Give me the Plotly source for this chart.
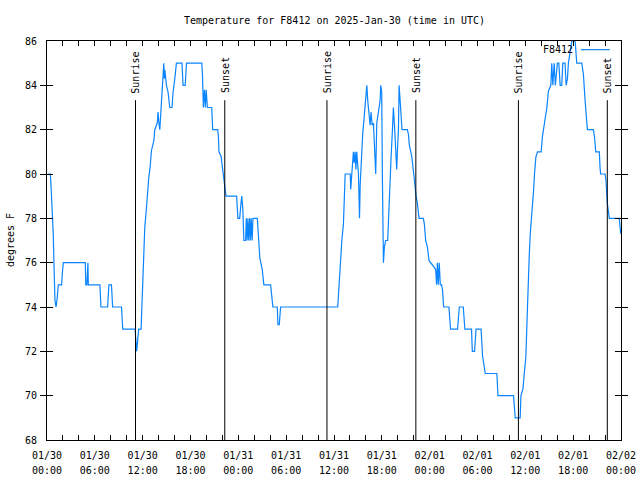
import plotly.graph_objects as go

# ---- data (times in UTC, temperatures in degrees F) ----
day1_times = ["00:05","00:25","00:30","00:40","00:47","00:53","01:00","01:08","01:15","01:25",
              "01:50","01:55","02:03","04:48","04:52","05:00","05:04","05:08","05:11","06:38",
              "06:46","07:36","07:46","08:05","08:14","09:21","09:30","11:03","11:15","11:23",
              "11:30","11:48","11:53","12:04","12:09","12:16","12:29","12:37","12:46","12:56",
              "13:06","13:24","13:31","13:50","13:56","14:02","14:09","14:16","14:26","14:34",
              "14:39","14:43","14:47","14:59","15:11","15:24","15:41","15:49","16:02","16:14",
              "16:56","17:04","17:20","17:30","19:25","19:30","19:37","19:45","19:52","19:58",
              "20:07","20:40","20:47","21:25","21:30","21:34","21:50","22:00","22:12","22:20",
              "22:27","23:47","23:57"]
day1_temps = [80,80,79.5,78.5,77.3,75.8,74.3,74,74.3,75,
              75,75.5,76,76,75,75,76,76,75,75,
              74,74,75,75,74,74,73,73,72,72.5,
              73,73,73.7,75.3,76.25,77.6,78.5,79.25,79.85,80.3,
              81.05,81.5,82,82.3,82.8,82.3,82,82.7,83.5,84.5,
              85,84.3,84.7,84,83.7,83,83,83.7,84.3,85,
              85,84,84,85,85,84.5,83,83.8,83,83.8,
              83,83,82,82,81.7,81,80.8,80.3,79.85,79.3,
              79,79,78]

day2_times = ["00:10","00:17","00:25","00:33","00:42","00:55","01:00","01:06","01:12","01:18",
              "01:25","01:31","01:37","01:44","01:50","02:23","02:27","02:35","02:42","03:00",
              "03:12","04:03","04:10","04:20","04:53","04:58","05:08","05:18","12:28","12:41",
              "12:51","12:59","13:11","13:19","13:24","14:02","14:06","14:14","14:26","14:32",
              "14:39","14:45","14:51","15:04","15:12","15:17","15:29","15:36","15:46","15:59",
              "16:07","16:14","16:24","16:32","16:39","16:47","16:57","17:04","17:14","17:22",
              "17:34","17:47","17:52","17:59","18:04","18:10","18:12","18:19","18:29","18:44",
              "18:49","18:57","19:02","19:10","19:20","19:27","19:35","19:40","19:47","19:52",
              "19:57","20:05","20:10","20:17","20:25","20:32","21:12","21:20","21:27","21:45",
              "22:00","22:10","22:18","22:27","22:40","23:12","23:20","23:30","23:43","23:55"]
day2_temps = [78,78.5,79,78.5,77,77,78,77,78,77,
              78,77,78,77,78,78,77.5,77,76.2,75.7,
              75,75,74.5,74,74,73.2,73.2,74,74,75.5,
              76.25,77,77.75,79.25,80,80,79.3,80,81,80.5,
              81,80.2,81,80,78,79.5,81.2,81.8,82.5,83.3,
              84,83.3,82.8,82.2,82.8,82.2,82.3,81.5,80,82.3,
              82.8,83.3,84,83.7,80,78,76,76.7,77,77,
              77.75,79.25,80.2,80.8,82,83,82.2,81.5,80.75,80.2,
              81,82,84,83.3,82.5,82,82,81.8,81.3,80.8,
              80,79.3,79,78.7,78,78,77.75,77,76.7,76.1]

day3_times = ["00:07","00:45","00:52","00:58","01:05","01:12","01:20","01:30","01:37","01:45",
              "02:25","02:37","03:30","03:43","04:13","04:25","05:15","05:21","05:38","05:49",
              "06:27","06:38","06:58","08:26","08:34","10:31","10:44","11:21","11:27","11:42",
              "11:52","12:04","12:12","12:19","12:29","12:37","12:44","12:54","13:02","13:09",
              "13:19","13:31","13:59","14:09","14:16","14:29","14:42","14:54","15:12","15:19",
              "15:27","15:37","15:46","16:01","16:12","16:22","16:34","16:42","16:59","17:07",
              "17:17","17:24","17:37","17:50","18:15","18:22","18:27","19:05","19:17","19:30",
              "19:42","19:47","20:32","20:40","20:50","21:17","21:22","21:27","22:00","22:07",
              "22:17","22:25","22:32","23:47","23:58"]
day3_temps = [76,75.7,75,76,75,76,75,75,74.75,74,
              74,73,73,74,74,73,73,72,72,73,
              73,71.8,71,71,70,70,69,69,70,70.3,
              71,71.75,73.25,74.75,76.25,77.3,77.75,78.7,79.25,80,
              80.75,81,81,81.7,82,82.4,83,83.75,84,85,
              84,85,84,85,85,84,84,85,85,84,
              84.3,85,85.5,86,86,85.5,85,85,84.5,83.3,
              82.25,82,82,81.7,81,81,80.3,80,80,79.7,
              78.7,78.3,78,78,77.3]

sun_times = ["2025-01-30 11:06", "2025-01-30 22:18", "2025-01-31 11:07",
             "2025-01-31 22:16", "2025-02-01 11:08", "2025-02-01 22:17"]
sun_labels = ["Sunrise", "Sunset", "Sunrise", "Sunset", "Sunrise", "Sunset"]
sun_line_top = 83.33

tick_times = ["2025-01-30 00:00", "2025-01-30 06:00", "2025-01-30 12:00", "2025-01-30 18:00",
              "2025-01-31 00:00", "2025-01-31 06:00", "2025-01-31 12:00", "2025-01-31 18:00",
              "2025-02-01 00:00", "2025-02-01 06:00", "2025-02-01 12:00", "2025-02-01 18:00",
              "2025-02-02 00:00"]
tick_dates = ["01/30", "01/30", "01/30", "01/30", "01/31", "01/31", "01/31", "01/31",
              "02/01", "02/01", "02/01", "02/01", "02/02"]
tick_hours = ["00:00", "06:00", "12:00", "18:00", "00:00", "06:00", "12:00", "18:00",
              "00:00", "06:00", "12:00", "18:00", "00:00"]

series_name = "F8412"
title_text = "Temperature for F8412 on 2025-Jan-30 (time in UTC)"
y_title = "degrees F"

# ---- build ----
times = ([f"2025-01-30 {t}" for t in day1_times] +
         [f"2025-01-31 {t}" for t in day2_times] +
         [f"2025-02-01 {t}" for t in day3_times])
temps = day1_temps + day2_temps + day3_temps

FONT = "DejaVu Sans Mono"
BLUE = "#0a84ff"
XRANGE = ["2025-01-30 00:00", "2025-02-02 00:00"]

W, H = 648, 488
ML, MR, MT, MB = 47, 19, 41, 41

fig = go.Figure()

sx, sy = [], []
for t in sun_times:
    sx += [t, t, None]
    sy += [68, sun_line_top, None]
fig.add_trace(go.Scatter(x=sx, y=sy, mode="lines", line=dict(color="black", width=1),
                         showlegend=False, hoverinfo="skip", xaxis="x2", yaxis="y"))

fig.add_trace(go.Scatter(x=times, y=temps, mode="lines", name=series_name,
                         line=dict(color=BLUE, width=1.2), showlegend=False))

for t, lab in zip(sun_times, sun_labels):
    fig.add_annotation(x=t, y=sun_line_top, xref="x", yref="y", text=lab, textangle=-90,
                       showarrow=False, xanchor="center", yanchor="bottom", yshift=5,
                       font=dict(family=FONT, size=10, color="black"))

# title
fig.add_annotation(x=0.5, y=1.051, xref="paper", yref="paper", text=title_text,
                   showarrow=False, xanchor="center", yanchor="middle",
                   font=dict(family=FONT, size=10, color="black"))
# y label
fig.add_annotation(x=-0.0634, y=0.5, xref="paper", yref="paper", text=y_title,
                   textangle=-90, showarrow=False, xanchor="center", yanchor="middle",
                   font=dict(family=FONT, size=10, color="black"))
# legend (text left of sample, gnuplot style)
fig.add_annotation(x=0.9196, y=0.9783, xref="paper", yref="paper", text=series_name,
                   showarrow=False, xanchor="right", yanchor="middle",
                   font=dict(family=FONT, size=10, color="black"))
fig.add_shape(type="line", xref="paper", yref="paper", x0=0.9301, x1=0.9805,
              y0=0.9783, y1=0.9783, line=dict(color=BLUE, width=1.2))

fig.update_layout(
    width=W, height=H,
    margin=dict(l=ML, r=MR, t=MT, b=MB),
    paper_bgcolor="white", plot_bgcolor="white",
    font=dict(family=FONT, size=10, color="black"),
    showlegend=False,
    xaxis=dict(type="date", range=XRANGE,
               tickmode="array", tickvals=tick_times, ticktext=tick_dates,
               ticks="inside", ticklen=5, tickcolor="black", tickwidth=1,
               showline=True, linecolor="black", linewidth=1, mirror="allticks",
               showgrid=False, zeroline=False, ticklabelstandoff=6,
               minor=dict(dtick=2 * 3600 * 1000, tick0="2025-01-30 00:00",
                          ticks="inside", ticklen=5, tickcolor="black", showgrid=False),
               tickfont=dict(family=FONT, size=10, color="black")),
    xaxis2=dict(type="date", range=XRANGE, matches="x", overlaying="x", anchor="y",
                side="bottom", tickmode="array", tickvals=tick_times, ticktext=tick_hours,
                ticks="", showline=False, showgrid=False, zeroline=False,
                ticklabelstandoff=23,
                tickfont=dict(family=FONT, size=10, color="black")),
    yaxis=dict(range=[68, 86], tick0=68, dtick=2,
               ticks="inside", ticklen=6, tickcolor="black", tickwidth=1,
               showline=True, linecolor="black", linewidth=1, mirror="allticks",
               showgrid=False, zeroline=False, ticklabelstandoff=7,
               tickfont=dict(family=FONT, size=10, color="black")),
)

fig.write_html("out.html", config={"displayModeBar": False},
               post_script="document.body.style.margin='0';document.body.style.overflow='hidden';")
